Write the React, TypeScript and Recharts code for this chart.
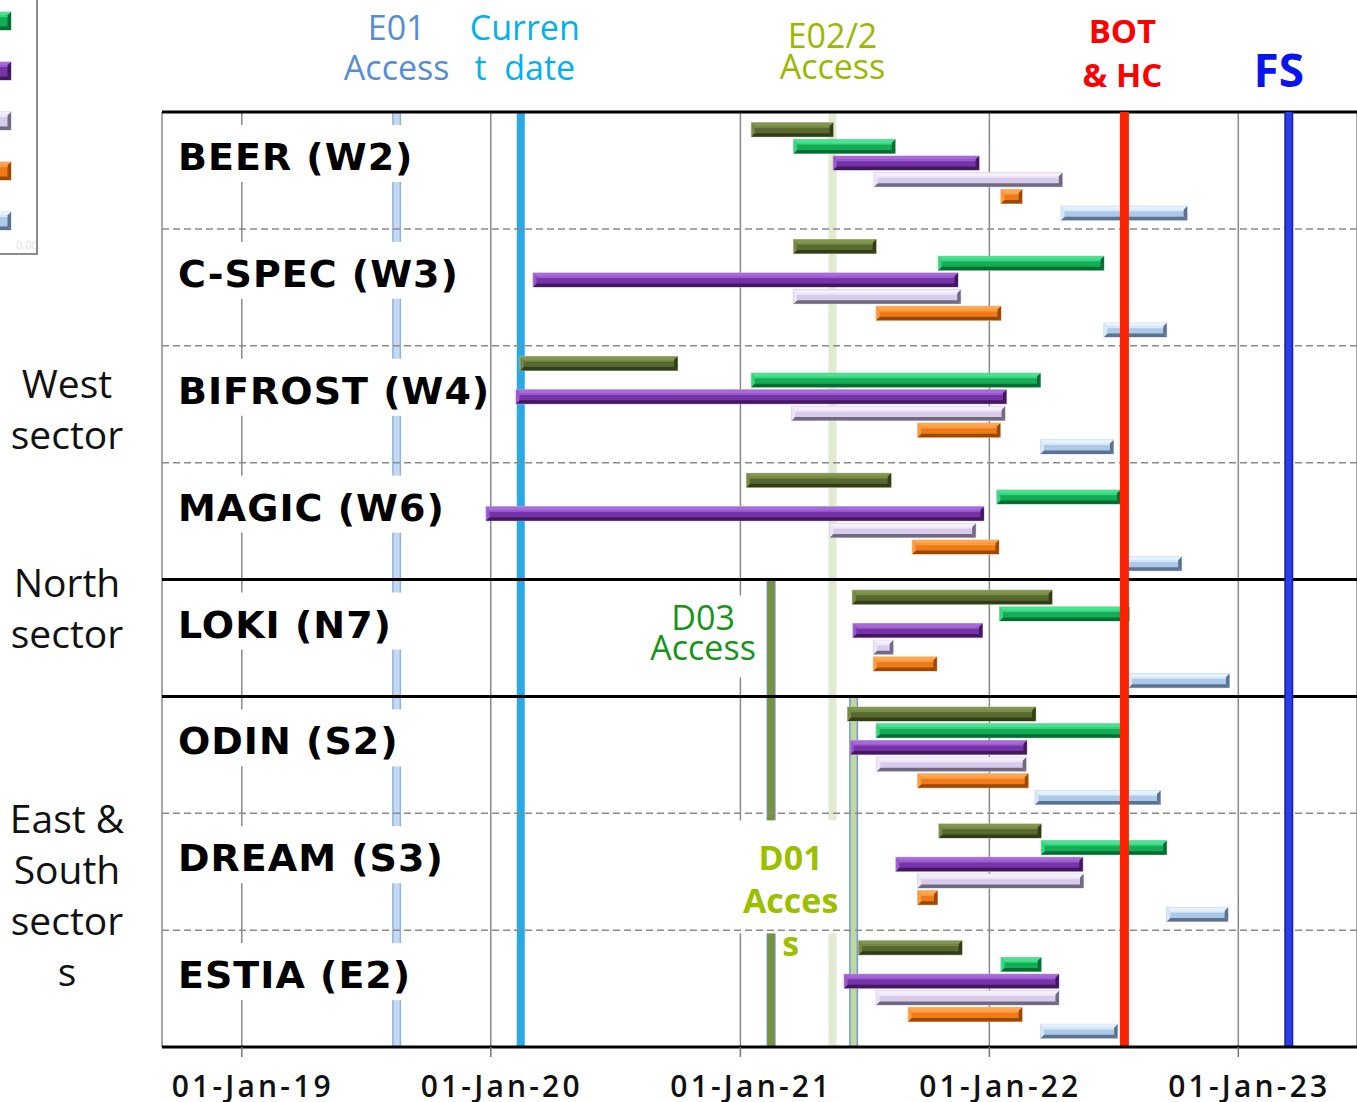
import React from 'react'
import { BarChart, Bar, XAxis, YAxis, CartesianGrid, ReferenceLine, Legend } from 'recharts'

const instruments = ['BEER (W2)', 'C-SPEC (W3)', 'BIFROST (W4)', 'MAGIC (W6)', 'LOKI (N7)', 'ODIN (S2)', 'DREAM (S3)', 'ESTIA (E2)']

// one [start, end] per instrument, same order as above
const oliveSpans = [
  ['2021-01-17', '2021-05-17'],
  ['2021-03-20', '2021-07-19'],
  ['2020-02-13', '2020-10-01'],
  ['2021-01-10', '2021-08-10'],
  ['2021-06-14', '2022-04-03'],
  ['2021-06-07', '2022-03-10'],
  ['2021-10-19', '2022-03-18'],
  ['2021-06-23', '2021-11-22'],
]
const greenSpans = [
  ['2021-03-20', '2021-08-16'],
  ['2021-10-18', '2022-06-18'],
  ['2021-01-17', '2022-03-17'],
  ['2022-01-12', '2022-07-12'],
  ['2022-01-16', '2022-07-25'],
  ['2021-07-19', '2022-07-19'],
  ['2022-03-18', '2022-09-18'],
  ['2022-01-18', '2022-03-18'],
]
const purpleSpans = [
  ['2021-05-17', '2021-12-17'],
  ['2020-03-03', '2021-11-16'],
  ['2020-02-07', '2022-01-26'],
  ['2019-12-25', '2021-12-24'],
  ['2021-06-15', '2021-12-22'],
  ['2021-06-11', '2022-02-25'],
  ['2021-08-17', '2022-05-18'],
  ['2021-06-02', '2022-04-13'],
]
const lavenderSpans = [
  ['2021-07-16', '2022-04-18'],
  ['2021-03-20', '2021-11-20'],
  ['2021-03-17', '2022-01-24'],
  ['2021-05-12', '2021-12-12'],
  ['2021-07-15', '2021-08-13'],
  ['2021-07-20', '2022-02-24'],
  ['2021-09-18', '2022-05-19'],
  ['2021-07-19', '2022-04-13'],
]
const orangeSpans = [
  ['2022-01-18', '2022-02-18'],
  ['2021-07-19', '2022-01-18'],
  ['2021-09-18', '2022-01-17'],
  ['2021-09-10', '2022-01-15'],
  ['2021-07-15', '2021-10-16'],
  ['2021-09-18', '2022-02-27'],
  ['2021-09-18', '2021-10-17'],
  ['2021-09-04', '2022-02-18'],
]
const blueSpans = [
  ['2022-04-16', '2022-10-18'],
  ['2022-06-18', '2022-09-18'],
  ['2022-03-17', '2022-07-02'],
  ['2022-07-12', '2022-10-10'],
  ['2022-07-24', '2022-12-19'],
  ['2022-03-09', '2022-09-09'],
  ['2022-09-18', '2022-12-17'],
  ['2022-03-17', '2022-07-08'],
]

const markerDates = {
  e01: '2019-08-16',
  current: '2020-02-14',
  d03: '2021-02-15',
  e02: '2021-05-16',
  d01: '2021-06-16',
  bot: '2022-07-18',
  fs: '2023-03-16',
}
const markerLabels = {
  e01: ['E01', 'Access'],
  current: ['Curren', 't  date'],
  e02: ['E02/2', 'Access'],
  d03: ['D03', 'Access'],
  d01: ['D01', 'Acces', 's'],
  bot: ['BOT', '& HC'],
  fs: ['FS'],
}

const xDomain = ['2018-09-06', '2023-06-24']
const yearTicks = ['2019-01-01', '2020-01-01', '2021-01-01', '2022-01-01', '2023-01-01']

const sectorNames = [['West', 'sector'], ['North', 'sector'], ['East &', 'South', 'sector', 's']]
const sectorTicks = [17.7, 29.6, 46.8]
const sectorFirstRow = [0, 4, 5]

const SLOTS = 7
const SLOT_START = 1.08
const ts = (d: string) => Date.parse(d + 'T00:00:00Z')
const spanSeries = [oliveSpans, greenSpans, purpleSpans, lavenderSpans, orangeSpans, blueSpans]

const barData = instruments.flatMap((name, r) =>
  spanSeries.map((spans, k) => ({
    name,
    kind: k,
    y: r * SLOTS + k + SLOT_START,
    span: [ts(spans[r][0]), ts(spans[r][1])],
  }))
)

const KIND_COLORS = [
  { face: '#58692f', hi: '#83964f', lo: '#323d18', edge: '#b3bc98' },
  { face: '#13ad55', hi: '#48e290', lo: '#0b6c33', edge: '#86d9aa' },
  { face: '#7632a8', hi: '#a86ad8', lo: '#42185e', edge: '#c6a6dd' },
  { face: '#d9cbeb', hi: '#f5effc', lo: '#706a80', edge: '#d4c9e2' },
  { face: '#f07a16', hi: '#ffa750', lo: '#9a4805', edge: '#f5b27c' },
  { face: '#adc9e9', hi: '#e6f3ff', lo: '#5c7390', edge: '#c4d5e8' },
]

const SANS = '"Open Sans", "Noto Sans", sans-serif'
const BOLD_LABEL = '"DejaVu Sans", Verdana, sans-serif'

function BevelBar(props: any) {
  const { x, y, width, height, payload } = props
  if (width == null || !isFinite(width) || width <= 0) return null
  const c = KIND_COLORS[payload.kind]
  const b = Math.min(3.5, width / 2)
  const x2 = x + width
  const y2 = y + height
  return (
    <g>
      <rect x={x} y={y} width={width} height={height} fill={c.face} stroke={c.edge} strokeWidth={1} />
      <polygon points={`${x},${y} ${x2},${y} ${x2 - b},${y + b} ${x + b},${y + b}`} fill={c.hi} />
      <polygon points={`${x},${y2} ${x2},${y2} ${x2 - b},${y2 - b} ${x + b},${y2 - b}`} fill={c.lo} />
      <polygon points={`${x},${y} ${x + b},${y + b} ${x + b},${y2 - b} ${x},${y2}`} fill={c.hi} opacity={0.7} />
      <polygon points={`${x2},${y} ${x2 - b},${y + b} ${x2 - b},${y2 - b} ${x2},${y2}`} fill={c.lo} />
      {width > 2 * b + 2 && (
        <rect x={x + b} y={y + b} width={width - 2 * b} height={1.6} fill={c.hi} opacity={0.8} />
      )}
    </g>
  )
}

function StackLabel({ viewBox, lines, color, size, weight = 400, dx = 0, first, gap = 0, box }: any) {
  if (!viewBox) return null
  const cx = viewBox.x + dx
  return (
    <g>
      {box && (
        <rect x={viewBox.x + box[0]} y={viewBox.y + box[1]} width={box[2]} height={box[3]} fill="#fff" />
      )}
      <text textAnchor="middle" fontFamily={SANS} fontSize={size} fontWeight={weight} fill={color} style={{ whiteSpace: 'pre' }}>
        {lines.map((l: string, i: number) => (
          <tspan key={i} x={cx} y={viewBox.y + first + i * gap}>{l}</tspan>
        ))}
      </text>
    </g>
  )
}

function RowLabel({ viewBox, text }: any) {
  if (!viewBox) return null
  const w = Math.max(text.length * 25.5, 245)
  return (
    <g>
      <rect x={viewBox.x + 8} y={viewBox.y + 13} width={w} height={57} fill="#fff" />
      <text x={viewBox.x + 16} y={viewBox.y + 58} fontFamily={BOLD_LABEL} fontWeight={700} fontSize={38} letterSpacing={1} fill="#000">
        {text}
      </text>
    </g>
  )
}

function YearTick({ x, y, payload }: any) {
  const d = new Date(payload.value)
  const label = `01-Jan-${String(d.getUTCFullYear()).slice(2)}`
  return (
    <text x={x + 11} y={y + 38} textAnchor="middle" fontFamily={SANS} fontWeight={600} fontSize={30} letterSpacing={3.2} fill="#111">
      {label}
    </text>
  )
}

function SectorTick({ x, y, index }: any) {
  const lines = sectorNames[index] || []
  return (
    <text textAnchor="middle" fontFamily={SANS} fontSize={39} fill="#111" dominantBaseline="central">
      {lines.map((l, i) => (
        <tspan key={i} x={x - 95} y={y + (i - (lines.length - 1) / 2) * 51}>{l}</tspan>
      ))}
    </text>
  )
}

function ClippedLegend() {
  return (
    <div style={{ position: 'relative', width: 0, height: 0 }}>
      <div
        style={{
          position: 'absolute', left: -160, top: -60, width: 196, height: 313,
          borderRight: '2px solid #8c8c8c', borderBottom: '2px solid #8c8c8c', background: '#fff',
        }}
      >
        <svg width={196} height={313} style={{ position: 'absolute', left: 0, top: 0 }}>
          {KIND_COLORS.map((c, k) => (
            <BevelBar key={k} x={152} y={22 + k * 50} width={19} height={18} payload={{ kind: k }} />
          ))}
          <text x={176} y={309} fontFamily={SANS} fontSize={11} fill="#e4e4e4">0.00</text>
        </svg>
      </div>
    </div>
  )
}

export default function App() {
  return (
    <div style={{ position: 'absolute', left: 0, top: 0, width: 1357, height: 1102, background: '#fff' }}>
      <BarChart
        width={1357}
        height={1102}
        layout="vertical"
        data={barData}
        margin={{ top: 112, right: 0, bottom: 0, left: 0 }}
      >
        <CartesianGrid vertical horizontal={false} stroke="#8a8a8a" strokeWidth={1.5} />
        <XAxis
          type="number"
          dataKey="span"
          domain={[ts(xDomain[0]), ts(xDomain[1])]}
          ticks={yearTicks.map(ts)}
          interval={0}
          allowDataOverflow
          height={55}
          axisLine={{ stroke: '#000', strokeWidth: 3 }}
          tickLine={{ stroke: '#777', strokeWidth: 1.5 }}
          tickSize={10}
          tick={<YearTick />}
        />
        <YAxis
          type="number"
          dataKey="y"
          domain={[0, instruments.length * SLOTS]}
          ticks={sectorTicks}
          interval={0}
          allowDataOverflow
          width={162}
          axisLine={false}
          tickLine={false}
          tickSize={0}
          tickMargin={0}
          tick={<SectorTick />}
        />
        <Legend verticalAlign="top" align="left" wrapperStyle={{ left: 0, top: 0 }} content={() => <ClippedLegend />} />

        {/* access / milestone markers behind the bars */}
        <ReferenceLine x={ts(markerDates.e01)} stroke="#8db3e2" strokeWidth={9} zIndex={250} />
        <ReferenceLine
          x={ts(markerDates.e01)}
          stroke="#c6d9f1"
          strokeWidth={6}
          zIndex={250}
          label={(p: any) => <StackLabel viewBox={p.viewBox} lines={markerLabels.e01} color="#558ed5" size={34} first={-72} gap={40} />}
        />
        <ReferenceLine
          x={ts(markerDates.current)}
          stroke="#2aa9e6"
          strokeWidth={8}
          zIndex={250}
          label={(p: any) => <StackLabel viewBox={p.viewBox} lines={markerLabels.current} color="#00b0f0" size={34} dx={4} first={-72} gap={40} />}
        />
        <ReferenceLine
          x={ts(markerDates.e02)}
          stroke="#e2ead2"
          strokeWidth={8}
          zIndex={250}
          label={(p: any) => <StackLabel viewBox={p.viewBox} lines={markerLabels.e02} color="#9ab800" size={34} first={-64} gap={31} />}
        />
        <ReferenceLine
          segment={[{ x: ts(markerDates.d03), y: sectorFirstRow[1] * SLOTS }, { x: ts(markerDates.d03), y: instruments.length * SLOTS }]}
          stroke="#6f8fd0"
          strokeWidth={9}
          zIndex={250}
        />
        <ReferenceLine
          segment={[{ x: ts(markerDates.d03), y: sectorFirstRow[1] * SLOTS }, { x: ts(markerDates.d03), y: instruments.length * SLOTS }]}
          stroke="#76923c"
          strokeWidth={7}
          zIndex={250}
          label={(p: any) => (
            <StackLabel viewBox={p.viewBox} lines={markerLabels.d03} color="#169416" size={34} dx={-68} first={50} gap={30} box={[-126, 16, 117, 82]} />
          )}
        />
        <ReferenceLine
          segment={[{ x: ts(markerDates.d01), y: sectorFirstRow[2] * SLOTS }, { x: ts(markerDates.d01), y: instruments.length * SLOTS }]}
          stroke="#6b9bd8"
          strokeWidth={9}
          zIndex={250}
        />
        <ReferenceLine
          segment={[{ x: ts(markerDates.d01), y: sectorFirstRow[2] * SLOTS }, { x: ts(markerDates.d01), y: instruments.length * SLOTS }]}
          stroke="#c4d79b"
          strokeWidth={6}
          zIndex={250}
          label={(p: any) => (
            <StackLabel viewBox={p.viewBox} lines={markerLabels.d01} color="#9cbf00" size={34} weight={700} dx={-63} first={174} gap={43} box={[-118, 124, 110, 113]} />
          )}
        />

        {/* row separators, each carrying its instrument name */}
        {instruments.map((name, r) => {
          const solid = sectorFirstRow.includes(r)
          return (
            <ReferenceLine
              key={name}
              y={r * SLOTS}
              stroke={solid ? '#000' : '#8a8a8a'}
              strokeWidth={solid ? 3 : 1.5}
              strokeDasharray={solid ? undefined : '7 4'}
              zIndex={260}
              label={(p: any) => <RowLabel viewBox={p.viewBox} text={name} />}
            />
          )
        })}

        <Bar dataKey="span" barSize={14} shape={BevelBar} isAnimationActive={false} />

        <ReferenceLine
          x={ts(markerDates.bot)}
          stroke="#ff2200"
          strokeWidth={9}
          zIndex={350}
          label={(p: any) => <StackLabel viewBox={p.viewBox} lines={markerLabels.bot} color="#ff0000" size={33} weight={700} dx={-2} first={-69} gap={44} />}
        />
        <ReferenceLine x={ts(markerDates.fs)} stroke="#1a2390" strokeWidth={9} zIndex={350} />
        <ReferenceLine
          x={ts(markerDates.fs)}
          stroke="#2b3ced"
          strokeWidth={6}
          zIndex={350}
          label={(p: any) => <StackLabel viewBox={p.viewBox} lines={markerLabels.fs} color="#0a14ee" size={46} weight={700} dx={-10} first={-25} />}
        />
      </BarChart>
    </div>
  )
}
